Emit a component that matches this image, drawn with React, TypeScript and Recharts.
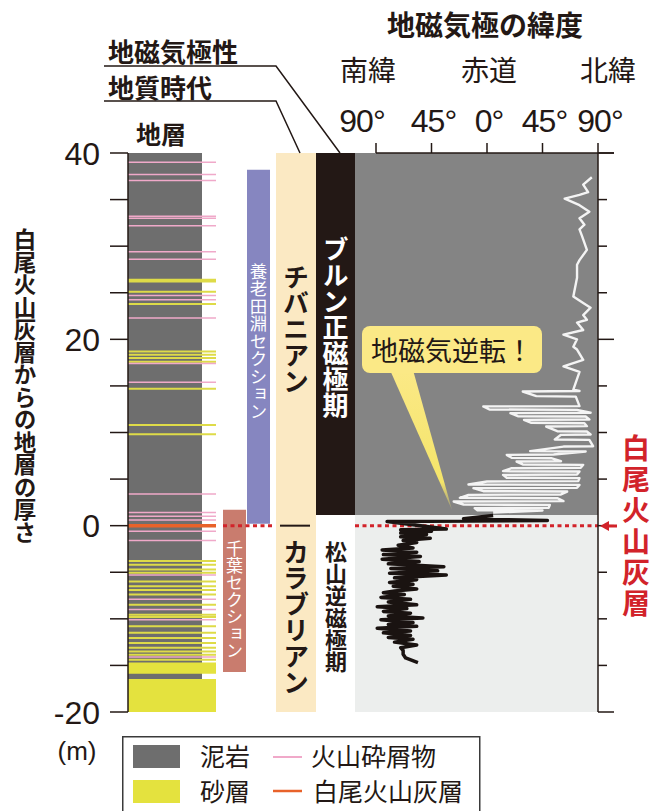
import React from "react";
import { ComposedChart, XAxis, YAxis, Scatter, Area, Line } from "recharts";

const JP = '"Noto Sans CJK JP", "Noto Sans CJK SC", sans-serif';
const NUM = '"Liberation Sans", Arial, sans-serif';
const INK = "#231815";
const RED = "#d2232a";

// depth (m) above / below the Shirao tephra
const depthTicks = [-20, -15, -10, -5, 0, 5, 10, 15, 20, 25, 30, 35, 40];
const latTicks = [-90, -45, 0, 45, 90];

// strata column
const tuffLines = [39.0, 37.7, 37.05, 33.2, 33.0, 32.2, 29.4, 28.6, 24.7, 24.25, 22.3, 17.4, 15.4, 3.4, 1.4, 1.0, 0.6, -0.6, -1.6, -5.3, -7.9, -9.0, -10.1, -14.1];
const sandLines = [26.4, 26.2, 25.1, 23.8, 18.7, 18.35, 18.0, 17.6, 14.7, 10.8, 9.8, -3.8, -4.2, -4.7, -5.05, -6.0, -6.5, -6.9, -7.4, -8.5, -9.55, -9.8, -10.8, -11.5, -12.05, -12.6, -13.1, -13.5, -13.85, -14.4];
const sandBeds = [[-14.7, -15.9], [-16.45, -20]];
const shiraoTephra = 0;

// sections, stages, polarity
const yoroSection = [0.2, 38.2];
const chibaSection = [-15.7, 1.7];
const stageSpan = [-20, 40];
const stageBoundary = 0;
const polarityBoundary = 1.15;

// virtual geomagnetic pole latitude [depth, lat]
const brunhesPole = [
  [37.4, 85], [36.6, 78], [35.8, 82], [35.5, 75], [35.1, 63], [34.4, 75], [33.7, 83], [33.0, 75],
  [32.3, 79], [31.8, 75], [31.1, 77], [29.6, 81], [28.5, 75], [28.0, 73], [26.6, 73], [24.6, 70],
  [23.9, 78], [23.4, 84], [22.6, 78], [22.1, 81], [21.8, 73], [21.0, 78], [20.5, 62], [20.0, 73],
  [19.2, 70], [18.9, 73], [17.8, 78], [17.1, 62], [16.5, 75], [14.6, 70],
  [14.45, 75], [14.4, 29], [13.9, 40], [13.85, 72], [12.83, 75], [12.8, -3], [12.47, 2], [12.43, 73],
  [12.12, 84], [12.08, 19], [11.75, 25], [11.71, 80], [11.4, 83], [11.36, 30], [11.04, 36], [11.0, 79],
  [10.68, 81], [10.64, 48], [10.14, 57], [10.1, 81], [9.79, 84], [9.75, 60], [9.25, 55], [9.21, 83],
  [8.53, 86], [8.49, 62], [8.0, 35], [7.96, 80], [7.64, 54], [7.6, 16], [7.28, 20], [7.24, 52],
  [6.92, 60], [6.88, 24], [6.57, 29], [6.53, 78], [6.21, 76], [6.17, 20], [5.85, 13], [5.81, 75],
  [5.49, 73], [5.45, 13], [5.14, 16], [5.1, 75], [4.78, 74], [4.74, 0], [4.42, -15], [4.38, 75],
  [4.06, 73], [4.02, -11], [3.7, -3], [3.66, 65], [3.35, 60], [3.31, -15], [2.99, -22], [2.95, 57],
  [2.63, 62], [2.59, -27], [2.27, -19], [2.23, 51], [1.92, 50], [1.88, -10], [1.66, -8], [1.62, 45],
  [1.4, 5],
];
const matuyamaPole = [
  [1.1, 5], [0.75, -19], [0.55, 49], [0.45, -81], [0.1, -60], [-0.35, -33], [-0.45, -70], [-0.6, -45],
  [-0.8, -70], [-0.95, -49], [-1.2, -70], [-1.35, -46], [-1.6, -68], [-1.8, -57], [-2.1, -72],
  [-2.4, -60], [-2.6, -85], [-2.85, -57], [-3.1, -84], [-3.3, -54], [-3.6, -85], [-3.85, -55],
  [-4.1, -80], [-4.4, -35], [-4.6, -78], [-4.85, -40], [-5.1, -79], [-5.3, -33], [-5.6, -75],
  [-5.8, -57], [-6.1, -79], [-6.3, -60], [-6.5, -76], [-6.8, -57], [-7.0, -75], [-7.2, -84],
  [-7.4, -67], [-7.7, -86], [-7.9, -62], [-8.2, -80], [-8.5, -57], [-8.7, -89], [-8.9, -65],
  [-9.2, -84], [-9.4, -62], [-9.7, -80], [-9.9, -52], [-10.1, -86], [-10.4, -60], [-10.6, -80],
  [-10.8, -57], [-11.0, -89], [-11.3, -62], [-11.5, -84], [-11.8, -62], [-12.0, -80], [-12.2, -60],
  [-12.5, -75], [-12.8, -57], [-13.1, -70], [-13.4, -68], [-13.8, -68], [-14.2, -66], [-14.7, -56],
];

// horizontal layout of the tracks (col axis units, 0 = left axis)
const COL = {
  strata: [0, 74], strataLines: [0, 88], chiba: [95, 118], yoro: [119, 142],
  stage: [148, 188], polarity: [188, 227], plot: [227, 470], sep: [152, 182],
};
const LAT_MIN = -90 - 248 * (180 / 222);

const toPts = (arr: number[][]) => arr.map(([d, lat]) => ({ d, lat }));
const band = (c: number[], lo: number, hi: number) => [
  { c: c[0], v: [lo, hi] },
  { c: c[1], v: [lo, hi] },
];
const hLines = (c: number[], ys: number[]) =>
  ys.flatMap((y) => [{ c: c[0], v: y }, { c: c[1], v: y }, { c: c[1], v: null }]);

const LeftTick = (p: any) => {
  const { x, y, payload } = p;
  const v = payload.value;
  return (
    <g>
      <line x1={x - 18} x2={x} y1={y} y2={y} stroke={INK} strokeWidth={1.5} />
      {v % 20 === 0 && (
        <text x={x - 28} y={y} dy="0.36em" textAnchor="end" fontSize={32} fontFamily={NUM} fill={INK}>{v}</text>
      )}
    </g>
  );
};

const RightTick = (p: any) => {
  const { x, y, payload } = p;
  const major = payload.value % 20 === 0;
  return <line x1={x} x2={x + (major ? 16 : 9)} y1={y} y2={y} stroke={INK} strokeWidth={1.5} />;
};

const TopTick = (p: any) => {
  const { x, y, payload } = p;
  const v = payload.value;
  return (
    <text x={x + (v === -90 ? -14 : 2)} y={y} textAnchor="middle" fontSize={32} letterSpacing={-1} fontFamily={NUM} fill={INK}>
      {Math.abs(v)}°
    </text>
  );
};

const VText = ({ x, y, size, color, children, weight = 700, spacing = 0, outline }: any) => (
  <text
    x={x}
    y={y}
    textAnchor="middle"
    fontSize={size}
    fontWeight={weight}
    fill={color}
    fontFamily={JP}
    stroke={outline || "none"}
    strokeWidth={outline ? 4 : 0}
    style={{ writingMode: "vertical-rl", letterSpacing: spacing, paintOrder: "stroke" } as any}
  >
    {children}
  </text>
);

export default function App() {
  const blocks = [
    { data: band(COL.plot, polarityBoundary, 40), fill: "#848484" },
    { data: band(COL.plot, -20, polarityBoundary), fill: "#eceeed" },
    { data: band(COL.strata, -20, 40), fill: "#6e6e6e" },
    ...sandBeds.map(([a, b]) => ({ data: band(COL.strataLines, b, a), fill: "#e4e23e" })),
    { data: band(COL.chiba, chibaSection[0], chibaSection[1]), fill: "#c97c6e" },
    { data: band(COL.yoro, yoroSection[0], yoroSection[1]), fill: "#8686c0" },
    { data: band(COL.stage, stageSpan[0], stageSpan[1]), fill: "#fbe9c3" },
    { data: band(COL.polarity, polarityBoundary, 40), fill: INK },
  ];
  return (
    <div style={{ position: "absolute", left: 0, top: 0, width: 659, height: 811, background: "#fff", overflow: "hidden" }}>
      <ComposedChart width={659} height={811} margin={{ top: 113, right: 41, bottom: 99, left: 68 }}>
        <XAxis xAxisId="col" type="number" dataKey="c" domain={[0, 470]} hide allowDataOverflow />
        <XAxis
          xAxisId="lat"
          type="number"
          dataKey="lat"
          orientation="top"
          domain={[LAT_MIN, 90]}
          allowDataOverflow
          ticks={latTicks}
          interval={0}
          height={40}
          axisLine={false}
          tickSize={10}
          tickMargin={11}
          tickLine={{ stroke: INK, strokeWidth: 1.5 }}
          tick={TopTick}
        />
        <YAxis
          yAxisId="d"
          type="number"
          dataKey="d"
          domain={[-20, 40]}
          allowDataOverflow
          ticks={depthTicks}
          interval={0}
          width={60}
          axisLine={{ stroke: INK, strokeWidth: 1.5 }}
          tickLine={false}
          tickSize={0}
          tickMargin={0}
          tick={LeftTick}
        />
        <YAxis
          yAxisId="r"
          orientation="right"
          type="number"
          domain={[-20, 40]}
          allowDataOverflow
          ticks={depthTicks}
          interval={0}
          width={20}
          axisLine={{ stroke: INK, strokeWidth: 1.5 }}
          tickLine={false}
          tickSize={0}
          tickMargin={0}
          tick={RightTick}
        />

        {blocks.map((b, i) => (
          <Area
            key={"b" + i}
            data={b.data}
            xAxisId="col"
            yAxisId="d"
            dataKey="v"
            type="linear"
            fill={b.fill}
            fillOpacity={1}
            stroke="none"
            dot={false}
            activeDot={false}
            isAnimationActive={false}
          />
        ))}

        <Line data={hLines(COL.strataLines, sandLines)} xAxisId="col" yAxisId="d" dataKey="v" type="linear" stroke="#dedb48" strokeWidth={2} dot={false} activeDot={false} isAnimationActive={false} />
        <Line data={hLines(COL.strataLines, tuffLines)} xAxisId="col" yAxisId="d" dataKey="v" type="linear" stroke="#f0a9c9" strokeWidth={1.5} dot={false} activeDot={false} isAnimationActive={false} />
        <Line data={hLines(COL.strataLines, [shiraoTephra])} xAxisId="col" yAxisId="d" dataKey="v" type="linear" stroke="#e8622a" strokeWidth={3.5} dot={false} activeDot={false} isAnimationActive={false} />
        <Line data={hLines(COL.sep, [stageBoundary])} xAxisId="col" yAxisId="d" dataKey="v" type="linear" stroke={INK} strokeWidth={2} dot={false} activeDot={false} isAnimationActive={false} />
        <Line
          data={[...hLines([COL.chiba[0], COL.stage[0] - 1], [shiraoTephra]), ...hLines(COL.plot, [shiraoTephra])]}
          xAxisId="col"
          yAxisId="d"
          dataKey="v"
          type="linear"
          stroke={RED}
          strokeWidth={3}
          strokeDasharray="4 3.5"
          dot={false}
          activeDot={false}
          isAnimationActive={false}
        />

        <Scatter data={toPts(brunhesPole)} xAxisId="lat" yAxisId="d" line={{ stroke: "#f4f4f4", strokeWidth: 2.4, strokeLinejoin: "round" }} shape={() => <g />} isAnimationActive={false} />
        <Scatter data={toPts(matuyamaPole)} xAxisId="lat" yAxisId="d" line={{ stroke: "#1a1311", strokeWidth: 3.5, strokeLinejoin: "round" }} shape={() => <g />} isAnimationActive={false} />
      </ComposedChart>

      <svg width={659} height={811} style={{ position: "absolute", left: 0, top: 0, pointerEvents: "none" }}>
        <defs>
          <linearGradient id="tail" x1="0" y1="0" x2="0" y2="1">
            <stop offset="0%" stopColor="#fbe986" />
            <stop offset="80%" stopColor="#f4e46a" />
            <stop offset="100%" stopColor="#f4e46a" stopOpacity={0.2} />
          </linearGradient>
        </defs>

        <line x1={376} y1={153} x2={614} y2={153} stroke={INK} strokeWidth={1.5} />

        <text x={485} y={36} textAnchor="middle" fontSize={28} fontWeight={700} fontFamily={JP} fill={INK}>地磁気極の緯度</text>
        <text x={368} y={81} textAnchor="middle" fontSize={28} fontFamily={JP} fill={INK}>南緯</text>
        <text x={489} y={81} textAnchor="middle" fontSize={28} fontFamily={JP} fill={INK}>赤道</text>
        <text x={608} y={81} textAnchor="middle" fontSize={28} fontFamily={JP} fill={INK}>北緯</text>

        <text x={108} y={62} fontSize={26} fontWeight={700} fontFamily={JP} fill={INK}>地磁気極性</text>
        <polyline points="104,66 276,66 340,153" fill="none" stroke={INK} strokeWidth={1.5} />
        <text x={108} y={98} fontSize={26} fontWeight={700} fontFamily={JP} fill={INK}>地質時代</text>
        <polyline points="104,101 276,101 300,153" fill="none" stroke={INK} strokeWidth={1.5} />

        <text x={161} y={144} textAnchor="middle" fontSize={25} fontWeight={700} fontFamily={JP} fill={INK}>地層</text>

        <VText x={25} y={386} size={22.5} color={INK}>白尾火山灰層からの地層の厚さ</VText>
        <text x={77} y={760} textAnchor="middle" fontSize={26} fontFamily={NUM} fill={INK}>(m)</text>

        <VText x={335.5} y={327} size={26} color="#ffffff">ブルン正磁極期</VText>
        <VText x={296} y={329} size={26} color={INK}>チバニアン</VText>
        <VText x={296} y={617} size={26} color={INK}>カラブリアン</VText>
        <VText x={336} y={607} size={22} color={INK} outline="#ffffff">松山逆磁極期</VText>
        <VText x={258.5} y={341} size={17.5} weight={400} color="#ffffff">養老田淵セクション</VText>
        <VText x={234.5} y={600} size={17} weight={400} color="#ffffff">千葉セクション</VText>
        <VText x={636} y={527} size={28} spacing={3} color={RED}>白尾火山灰層</VText>

        <line x1={617} y1={526} x2={606} y2={526} stroke={RED} strokeWidth={3} />
        <polygon points="600,526 609,521 609,531" fill={RED} />

        <polygon points="390,370 413,370 452,510" fill="url(#tail)" />
        <rect x={362} y={326} width={180} height={47} rx={8} fill="#fbe986" />
        <text x={452} y={361} textAnchor="middle" fontSize={27} fontFamily={JP} fill={INK}>地磁気逆転！</text>

        <rect x={122.75} y={736.75} width={357} height={90} fill="none" stroke="#3a3a3a" strokeWidth={1.5} />
        <rect x={133} y={745} width={47} height={23} fill="#6e6e6e" />
        <text x={200} y={766} fontSize={25} fontFamily={JP} fill={INK}>泥岩</text>
        <line x1={273} x2={302} y1={757} y2={757} stroke="#f0a9c9" strokeWidth={2} />
        <text x={311} y={766} fontSize={25} fontFamily={JP} fill={INK}>火山砕屑物</text>
        <rect x={133} y={780} width={47} height={23} fill="#e4e23e" />
        <text x={200} y={801} fontSize={25} fontFamily={JP} fill={INK}>砂層</text>
        <line x1={273} x2={302} y1={791} y2={791} stroke="#e8622a" strokeWidth={2.5} />
        <text x={313} y={801} fontSize={25} fontFamily={JP} fill={INK}>白尾火山灰層</text>
      </svg>
    </div>
  );
}
